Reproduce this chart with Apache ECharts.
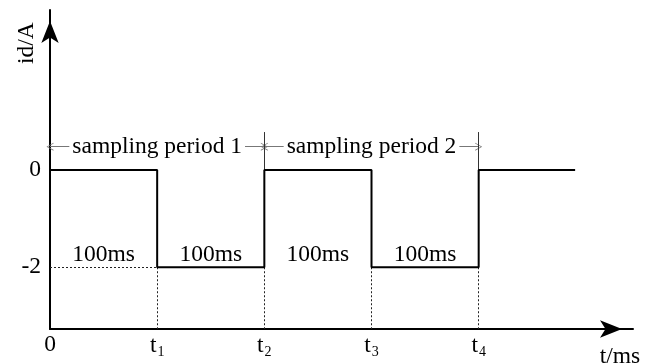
<!DOCTYPE html>
<html>
<head>
<meta charset="utf-8">
<script src="https://cdn.jsdelivr.net/npm/echarts@6/dist/echarts.min.js"></script>
<style>
  html, body { margin: 0; padding: 0; background: #fff; }
  #main { width: 655px; height: 364px; }
</style>
</head>
<body>
<div id="main"></div>
<script>
// 时间边界 (ms) 和各段电流值 (A)
var edges = [0, 100, 200, 300, 400, 490];
var levels = [0, -2, 0, -2, 0];
var tickValues = [0, 100, 200, 300, 400];
var tickNames = ['0', 't1', 't2', 't3', 't4'];
var yTicks = [0, -2];
var durationLabels = ['100ms', '100ms', '100ms', '100ms'];
var periodNames = ['sampling period 1', 'sampling period 2'];
var periodEdges = [[0, 200], [200, 400]];

var yMin = -3.27, yMax = 3.29, xMax = 544;
var font = '"Liberation Serif", "Times New Roman", serif';
var fs = 23.5;

init();

function init() {
    var chart = echarts.init(document.getElementById('main'));
    chart.setOption(buildOption());
}

// 阶梯波形点
function wavePoints() {
    var pts = [];
    for (var i = 0; i < levels.length; i++) {
        pts.push([edges[i], levels[i]]);
        pts.push([edges[i + 1], levels[i]]);
    }
    return pts;
}

// 虚线辅助线
function guideLines() {
    var lines = [[{coord: [edges[0], -2]}, {coord: [edges[1], -2]}]];
    for (var i = 1; i < tickValues.length; i++) {
        lines.push([{coord: [tickValues[i], -2]}, {coord: [tickValues[i], yMin]}]);
    }
    return lines;
}

function periodArrows() {
    var arrowY = 0.48;
    var lines = [];
    for (var i = 0; i < periodEdges.length; i++) {
        lines.push([{coord: [periodEdges[i][0], arrowY]}, {coord: [periodEdges[i][1], arrowY]}]);
    }
    return lines;
}

function periodMarkers() {
    var lines = [];
    for (var i = 0; i < periodEdges.length; i++) {
        lines.push([{coord: [periodEdges[i][1], 0]}, {coord: [periodEdges[i][1], 0.78]}]);
    }
    return lines;
}

function textPoints() {
    var data = [];
    for (var i = 0; i < durationLabels.length; i++) {
        data.push({name: durationLabels[i], value: [(edges[i] + edges[i + 1]) / 2, -1.74]});
    }
    return data;
}

function periodTextPoints() {
    var data = [];
    for (var i = 0; i < periodNames.length; i++) {
        data.push({name: periodNames[i], value: [(periodEdges[i][0] + periodEdges[i][1]) / 2, 0.48]});
    }
    return data;
}

function buildOption() {
    var chevron = 'path://M5,0 L10,10 L9,10 L5,2 L1,10 L0,10 Z';
    var textLabel = {
        show: true,
        position: 'inside',
        formatter: '{b}',
        color: '#000',
        fontFamily: font,
        fontSize: fs,
        textBorderWidth: 0,
        textBorderColor: 'transparent'
    };
    return {
        animation: false,
        backgroundColor: '#fff',
        textStyle: {fontFamily: font},
        grid: {left: 50, right: 22, top: 10, bottom: 35, outerBoundsMode: 'none'},
        xAxis: {
            type: 'value',
            min: 0,
            max: xMax,
            splitLine: {show: false},
            axisTick: {show: false},
            axisLine: {
                onZero: false,
                lineStyle: {color: '#000', width: 2},
                symbol: ['none', 'arrow'],
                symbolSize: [13, 22],
                symbolOffset: [0, -11]
            },
            axisLabel: {
                customValues: tickValues,
                margin: 4,
                color: '#000',
                fontFamily: font,
                fontSize: fs,
                formatter: function (v) {
                    var idx = tickValues.indexOf(v);
                    var name = tickNames[idx];
                    if (name.length === 1) return '{t|' + name + '}';
                    return '{t|' + name.charAt(0) + '}{s|' + name.substring(1) + '}';
                },
                rich: {
                    t: {fontSize: fs, fontFamily: font, color: '#000'},
                    s: {fontSize: 14, fontFamily: font, color: '#000', padding: [12, 0, 0, 1]}
                }
            }
        },
        yAxis: {
            type: 'value',
            min: yMin,
            max: yMax,
            splitLine: {show: false},
            axisTick: {show: false},
            axisLine: {
                onZero: false,
                lineStyle: {color: '#000', width: 2},
                symbol: ['none', 'arrow'],
                symbolSize: [13, 22],
                symbolOffset: [0, -11]
            },
            axisLabel: {
                customValues: yTicks,
                margin: 9,
                color: '#000',
                fontFamily: font,
                fontSize: fs
            }
        },
        graphic: [
            {
                type: 'text',
                x: 15, y: 64,
                rotation: Math.PI / 2,
                style: {text: 'id/A', font: fs + 'px ' + font, fill: '#000', align: 'left', verticalAlign: 'top'}
            },
            {
                type: 'text',
                x: 620, y: 345,
                style: {text: 't/ms', font: fs + 'px ' + font, fill: '#000', align: 'center', verticalAlign: 'top'}
            }
        ],
        series: [
            {
                type: 'line',
                data: wavePoints(),
                symbol: 'none',
                lineStyle: {color: '#000', width: 2},
                z: 5,
                markLine: {
                    silent: true,
                    symbol: 'none',
                    label: {show: false},
                    lineStyle: {color: '#222', width: 1, type: [2, 2]},
                    data: guideLines()
                }
            },
            {
                type: 'line',
                data: [],
                markLine: {
                    silent: true,
                    symbol: [chevron, chevron],
                    symbolSize: [8, 7],
                    label: {show: false},
                    lineStyle: {color: '#777', width: 1, type: 'solid'},
                    data: periodArrows()
                }
            },
            {
                type: 'line',
                data: [],
                markLine: {
                    silent: true,
                    symbol: 'none',
                    label: {show: false},
                    lineStyle: {color: '#333', width: 1, type: 'solid'},
                    data: periodMarkers()
                }
            },
            {
                type: 'scatter',
                symbolSize: 0,
                silent: true,
                itemStyle: {opacity: 1},
                data: periodTextPoints(),
                z: 10,
                label: Object.assign({}, textLabel, {backgroundColor: '#fff', padding: [0, 3]})
            },
            {
                type: 'scatter',
                symbolSize: 0,
                silent: true,
                itemStyle: {opacity: 1},
                data: textPoints(),
                label: textLabel
            }
        ]
    };
}
</script>
</body>
</html>
